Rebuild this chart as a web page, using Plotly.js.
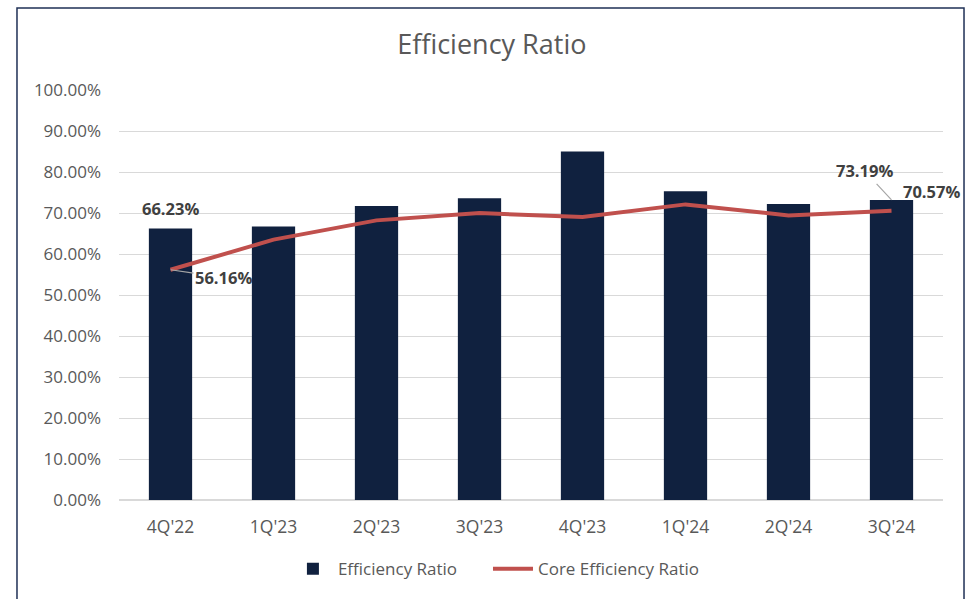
<!DOCTYPE html>
<html>
<head>
<meta charset="utf-8">
<script src="https://cdn.plot.ly/plotly-3.0.1.min.js"></script>
<style>
  html, body { margin: 0; padding: 0; background: #fff; }
  #chart { width: 972px; height: 599px; }
</style>
</head>
<body>
<div id="chart"></div>
<script>
const quarters = ["4Q'22", "1Q'23", "2Q'23", "3Q'23", "4Q'23", "1Q'24", "2Q'24", "3Q'24"];
const efficiencyRatio = [66.23, 66.7, 71.7, 73.6, 85.0, 75.3, 72.2, 73.19];
const coreEfficiencyRatio = [56.16, 63.5, 68.2, 70.0, 69.0, 72.1, 69.4, 70.57];
const yTicks = [0, 10, 20, 30, 40, 50, 60, 70, 80, 90, 100];
const yTickText = yTicks.map(v => v.toFixed(2) + '%');

const FONT = "Open Sans, Noto Sans, sans-serif";
const labelFont = { family: FONT, size: 16.5, color: '#404040', weight: 'bold' };
const legendFont = { family: FONT, size: 17, color: '#595959' };
const last = quarters.length - 1;

const traces = [
  {
    type: 'bar', name: 'Efficiency Ratio', x: quarters, y: efficiencyRatio,
    marker: { color: '#10213F' }, hoverinfo: 'x+y', legend: 'legend'
  },
  {
    type: 'scatter', mode: 'lines', name: 'Core Efficiency Ratio', x: quarters, y: coreEfficiencyRatio,
    line: { color: '#C0504D', width: 4 }, hoverinfo: 'x+y', legend: 'legend2'
  }
];

const layout = {
  width: 972, height: 599,
  margin: { l: 119, r: 29, t: 90, b: 98.5 },
  paper_bgcolor: '#fff', plot_bgcolor: '#fff',
  title: { text: 'Efficiency Ratio', x: 0.506, xanchor: 'center', y: 0.925, yanchor: 'middle',
           font: { family: FONT, size: 27, color: '#595959' } },
  bargap: 0.58,
  xaxis: {
    type: 'category', range: [-0.5, quarters.length - 0.5], autorange: false,
    tickfont: { family: FONT, size: 17.5, color: '#595959' },
    showgrid: false, showline: false, ticks: '', ticklen: 0, ticklabelstandoff: 14
  },
  yaxis: {
    range: [0, 100], autorange: false, tickmode: 'array', tickvals: yTicks, ticktext: yTickText,
    tickfont: { family: FONT, size: 17, color: '#595959' },
    gridcolor: '#D9D9D9', gridwidth: 1, zeroline: true, zerolinecolor: '#D9D9D9', zerolinewidth: 1.5,
    showline: false, ticks: '', ticklabelstandoff: 17
  },
  showlegend: true,
  legend: {
    orientation: 'h', x: 0.205, xanchor: 'left', y: -0.169, yanchor: 'middle',
    font: legendFont, itemwidth: 40
  },
  legend2: {
    orientation: 'h', x: 0.4478, xanchor: 'left', y: -0.169, yanchor: 'middle',
    font: legendFont, itemwidth: 40
  },
  annotations: [
    { x: quarters[0], y: efficiencyRatio[0], text: efficiencyRatio[0].toFixed(2) + '%',
      showarrow: false, yshift: 20, font: labelFont },
    { x: quarters[0], y: coreEfficiencyRatio[0], text: coreEfficiencyRatio[0].toFixed(2) + '%',
      showarrow: true, arrowhead: 0, arrowwidth: 1.2, arrowcolor: '#A6A6A6', ax: 53, ay: 8, standoff: 0,
      font: labelFont },
    { x: quarters[last], y: efficiencyRatio[last], text: efficiencyRatio[last].toFixed(2) + '%',
      showarrow: true, arrowhead: 0, arrowwidth: 1.2, arrowcolor: '#A6A6A6', ax: -27, ay: -29, standoff: 0,
      font: labelFont },
    { x: quarters[last], y: coreEfficiencyRatio[last], text: coreEfficiencyRatio[last].toFixed(2) + '%',
      showarrow: false, xshift: 40, yshift: 19, font: labelFont }
  ],
  shapes: [
    { type: 'rect', xref: 'paper', yref: 'paper', x0: -0.1238, x1: 1.0255, y0: -0.26, y1: 1.1998,
      line: { color: '#1F3056', width: 1.5 }, fillcolor: 'rgba(0,0,0,0)', layer: 'below' }
  ]
};

Plotly.newPlot('chart', traces, layout, { displayModeBar: false, responsive: false });
</script>
</body>
</html>
